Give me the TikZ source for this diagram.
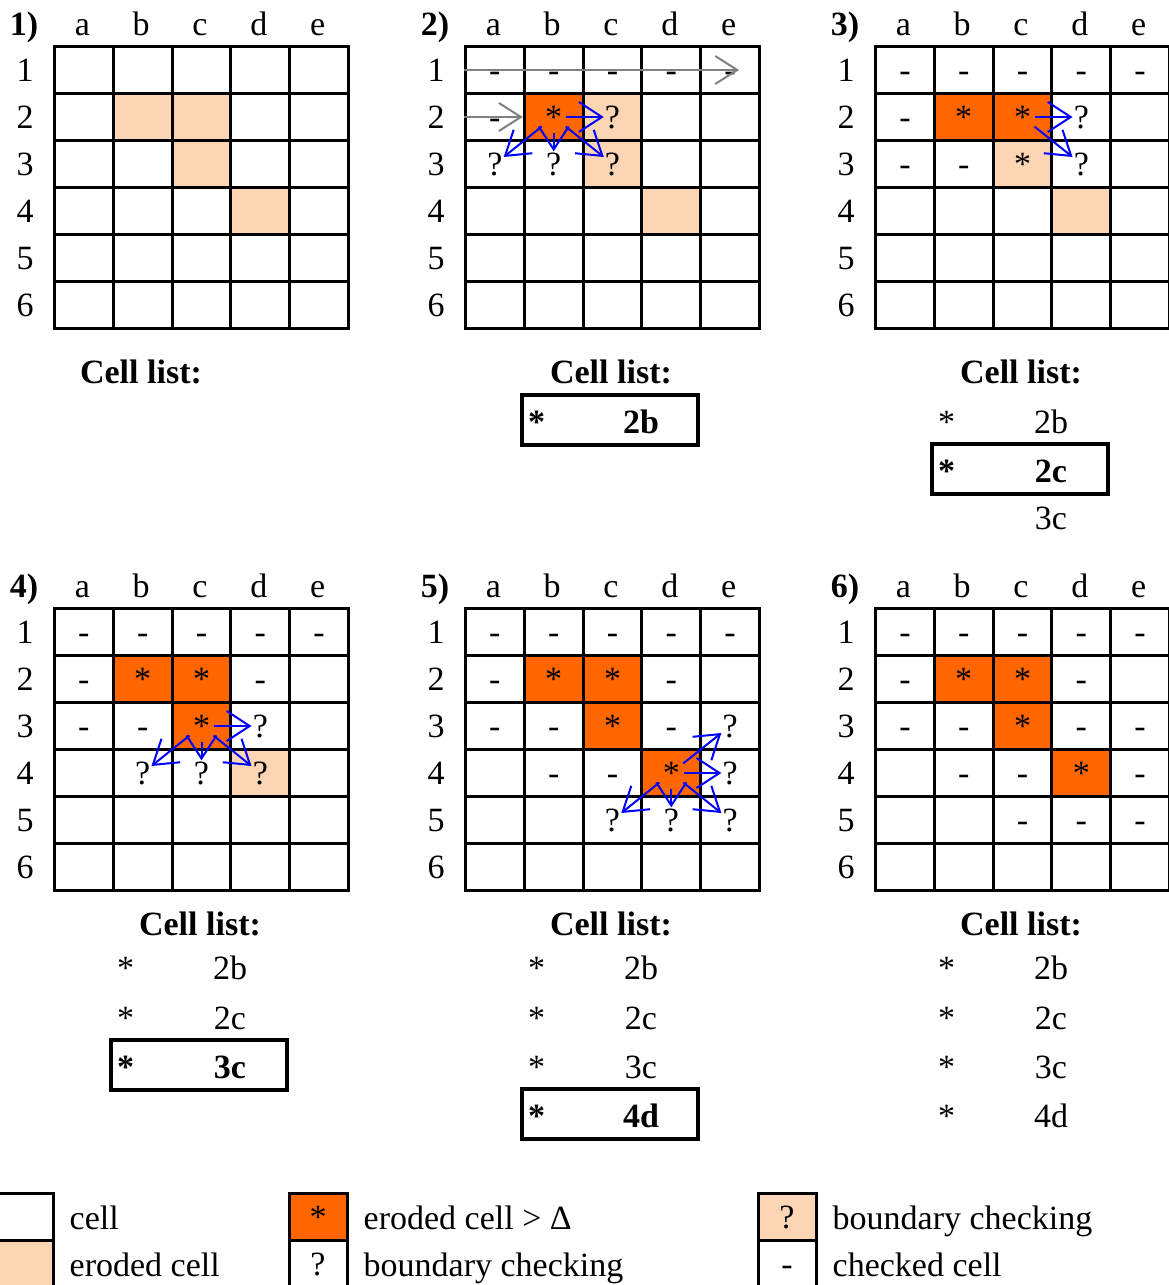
\documentclass[tikz,border=0pt]{standalone}
\usepackage{fontspec}
\setmainfont{Liberation Serif}
\usetikzlibrary{arrows.meta, positioning, backgrounds}

\definecolor{erodedcol}{HTML}{FCD5B4}
\definecolor{deepcol}{HTML}{FF6600}

\begin{document}
\begin{tikzpicture}[
    x=1pt, y=-1pt,
    every node/.style={font=\fontsize{34}{40}\selectfont},
    cell/.style={draw, line width=3pt, minimum width=58.8pt, minimum height=47pt, inner sep=0pt, anchor=north west},
    sym/.style={text height=23pt, text depth=0pt, inner sep=1pt},
    colhead/.style={anchor=base, inner sep=0pt},
    rowhead/.style={inner sep=0pt},
    panellab/.style={anchor=base, inner sep=0pt, font=\fontsize{34}{40}\selectfont\bfseries},
    listtitle/.style={inner sep=0pt, font=\fontsize{34}{40}\selectfont\bfseries},
    listentry/.style={anchor=base, inner sep=0pt},
    listbold/.style={listentry, font=\fontsize{34}{40}\selectfont\bfseries},
    listbox/.style={draw, line width=4pt, minimum width=176pt, minimum height=50pt},
    legbox/.style={draw, line width=3pt, minimum width=58pt, minimum height=47pt, sym},
    legtext/.style={right=13pt of #1, inner sep=2pt, text height=32pt, text depth=6pt},
    checkarrow/.style={blue, line width=2pt, -{Straight Barb[length=23pt, width=30pt, line width=2pt]}},
    scanarrow/.style={gray, line width=2pt, -{Straight Barb[length=22pt, width=28pt, line width=2pt]}}
]
\useasboundingbox (0,0) rectangle (1168,1285);

% Grids
\foreach \px/\py/\p in {53/45/1, 464/45/2, 874/45/3, 53/607/4, 464/607/5, 874/607/6} {
  \node[panellab] (lab\p) at (\px-29, \py-10) {\p)};
  \foreach \cl [count=\ci from 0] in {a,b,c,d,e}
    \node[colhead] (h\p\cl) at (\px+29.4+58.8*\ci, \py-10) {\cl};
  \foreach \rw in {1,...,6} {
    \node[rowhead] (r\p\rw) at (\px-28, \py+47*\rw-21.5) {\rw};
    \foreach \cl [count=\ci from 0] in {a,b,c,d,e}
      \node[cell] (c\p\cl\rw) at (\px+58.8*\ci, \py+47*\rw-47) {};
  }
}

% Eroded cells
\begin{scope}[on background layer]
\foreach \n/\col in {1b2/erodedcol, 1c2/erodedcol, 1c3/erodedcol, 1d4/erodedcol,
    2b2/deepcol, 2c2/erodedcol, 2c3/erodedcol, 2d4/erodedcol,
    3b2/deepcol, 3c2/deepcol, 3c3/erodedcol, 3d4/erodedcol,
    4b2/deepcol, 4c2/deepcol, 4c3/deepcol, 4d4/erodedcol,
    5b2/deepcol, 5c2/deepcol, 5c3/deepcol, 5d4/deepcol,
    6b2/deepcol, 6c2/deepcol, 6c3/deepcol, 6d4/deepcol}
  \fill[\col] (c\n.north west) rectangle (c\n.south east);
\end{scope}

% Cell marks
\foreach \n/\txt in {2a1/-, 2b1/-, 2c1/-, 2d1/-, 2e1/-, 2a2/-, 2b2/*, 2c2/?, 2a3/?, 2b3/?, 2c3/?,
    3a1/-, 3b1/-, 3c1/-, 3d1/-, 3e1/-, 3a2/-, 3b2/*, 3c2/*, 3d2/?, 3a3/-, 3b3/-, 3c3/*, 3d3/?,
    4a1/-, 4b1/-, 4c1/-, 4d1/-, 4e1/-, 4a2/-, 4b2/*, 4c2/*, 4d2/-, 4a3/-, 4b3/-, 4c3/*, 4d3/?,
    4b4/?, 4c4/?, 4d4/?,
    5a1/-, 5b1/-, 5c1/-, 5d1/-, 5e1/-, 5a2/-, 5b2/*, 5c2/*, 5d2/-, 5a3/-, 5b3/-, 5c3/*, 5d3/-,
    5e3/?, 5b4/-, 5c4/-, 5d4/*, 5e4/?, 5c5/?, 5d5/?, 5e5/?,
    6a1/-, 6b1/-, 6c1/-, 6d1/-, 6e1/-, 6a2/-, 6b2/*, 6c2/*, 6d2/-, 6a3/-, 6b3/-, 6c3/*, 6d3/-,
    6e3/-, 6b4/-, 6c4/-, 6d4/*, 6e4/-, 6c5/-, 6d5/-, 6e5/-}
  \node[sym] (m\n) at (c\n.center) {\txt};

% Arrows
\draw[scanarrow] (c2a1.west) -- ([xshift=9pt]c2e1.center);
\draw[scanarrow] (c2a2.west) -- (c2b2.west);
\foreach \a/\b in {2b2/2c2, 2b2/2a3, 2b2/2b3, 2b2/2c3, 3c2/3d2, 3c2/3d3,
    4c3/4d3, 4c3/4b4, 4c3/4c4, 4c3/4d4, 5d4/5e3, 5d4/5e4, 5d4/5c5, 5d4/5d5, 5d4/5e5}
  \draw[checkarrow, shorten <=3pt] (m\a) -- (m\b);

% Cell lists
\node[listtitle] (t1) at (141,372) {Cell list:};
\node[listtitle] (t2) at (611,372) {Cell list:};
\node[listtitle] (t3) at (1021,372) {Cell list:};
\node[listtitle] (t4) at (200,924) {Cell list:};
\node[listtitle] (t5) at (611,924) {Cell list:};
\node[listtitle] (t6) at (1021,924) {Cell list:};

\foreach \gx/\gy/\lab/\k in {874/433/2b/3a, 53/979/2b/4a, 53/1029/2c/4b,
    464/979/2b/5a, 464/1029/2c/5b, 464/1078/3c/5c,
    874/979/2b/6a, 874/1029/2c/6b, 874/1078/3c/6c, 874/1127/4d/6d} {
  \node[listentry] (s\k) at (\gx+72.5, \gy) {*};
  \node[listentry] (e\k) at (\gx+177, \gy) {\lab};
}
\node[listentry] (e3c) at (1051,529) {3c};

\foreach \gx/\gy/\lab/\k in {464/433/2b/2, 874/482/2c/3, 53/1078/3c/4, 464/1127/4d/5} {
  \node[listbox] (box\k) at (\gx+146, \gy-13) {};
  \node[listbold] (bs\k) at (\gx+72.5, \gy) {*};
  \node[listbold] (be\k) at (\gx+177, \gy) {\lab};
}

% Legend
\node[legbox] (lb1) at (24,1216.5) {};
\node[legtext=lb1] (lt1) {cell};
\node[legbox, fill=erodedcol] (lb2) at (24,1263.5) {};
\node[legtext=lb2] (lt2) {eroded cell};
\node[legbox, fill=deepcol] (lb3) at (318,1216.5) {*};
\node[legtext=lb3] (lt3) {eroded cell > Δ};
\node[legbox] (lb4) at (318,1263.5) {?};
\node[legtext=lb4] (lt4) {boundary checking};
\node[legbox, fill=erodedcol] (lb5) at (787,1216.5) {?};
\node[legtext=lb5] (lt5) {boundary checking};
\node[legbox] (lb6) at (787,1263.5) {-};
\node[legtext=lb6] (lt6) {checked cell};

\end{tikzpicture}
\end{document}
